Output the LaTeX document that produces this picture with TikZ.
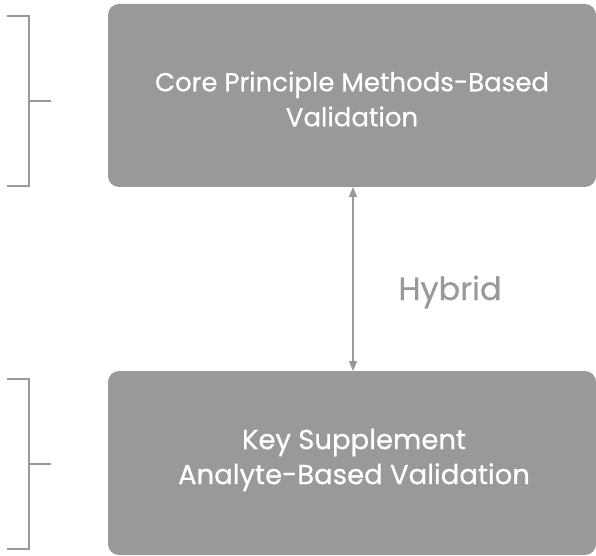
\documentclass[tikz,border=0pt]{standalone}
\usepackage{fontspec}
\setmainfont{Poppins}[FakeBold=0.6]
\usetikzlibrary{arrows.meta}
\definecolor{boxgray}{HTML}{999999}
\tikzset{
  mainbox/.style={fill=boxgray, draw=none, rounded corners=11pt, text=white,
    align=center, font=\fontsize{26}{35}\selectfont, inner sep=0pt},
  bracketline/.style={draw=boxgray, line width=2pt},
  linkarrow/.style={draw=boxgray, line width=1.6pt, {Triangle[width=8pt,length=10pt]}-{Triangle[width=8pt,length=10pt]}},
}
\begin{document}
\begin{tikzpicture}[x=1pt,y=1pt]
\useasboundingbox (0,0) rectangle (596,555);
% boxes
\path[mainbox] (108,368) rectangle (596,551);
\node[mainbox, fill=none] (core) at (352,456) {Core Principle Methods-Based\\Validation};
\coordinate (coreS) at (353,368);
\path[mainbox] (108,0) rectangle (596,184);
\node[mainbox, fill=none, font=\fontsize{27.5}{35}\selectfont] (key) at (354,95) {Key Supplement\\Analyte-Based Validation};
\coordinate (keyN) at (353,184);
% arrow
\draw[linkarrow] (coreS) -- (keyN);
\node[text=boxgray, font=\fontsize{32}{34}\selectfont, anchor=base] (hyb) at (450,255) {Hybrid};
% brackets
\coordinate (b1t) at (29,539);
\coordinate (b1b) at (29,369);
\coordinate (b1m) at (29,454);
\draw[bracketline] (7,539) -- (b1t) -- (b1b) -- (7,369);
\draw[bracketline] (b1m) -- (51,454);
\coordinate (b2t) at (29,176);
\coordinate (b2b) at (29,6);
\coordinate (b2m) at (29,91);
\draw[bracketline] (7,176) -- (b2t) -- (b2b) -- (7,6);
\draw[bracketline] (b2m) -- (51,91);
\end{tikzpicture}
\end{document}
